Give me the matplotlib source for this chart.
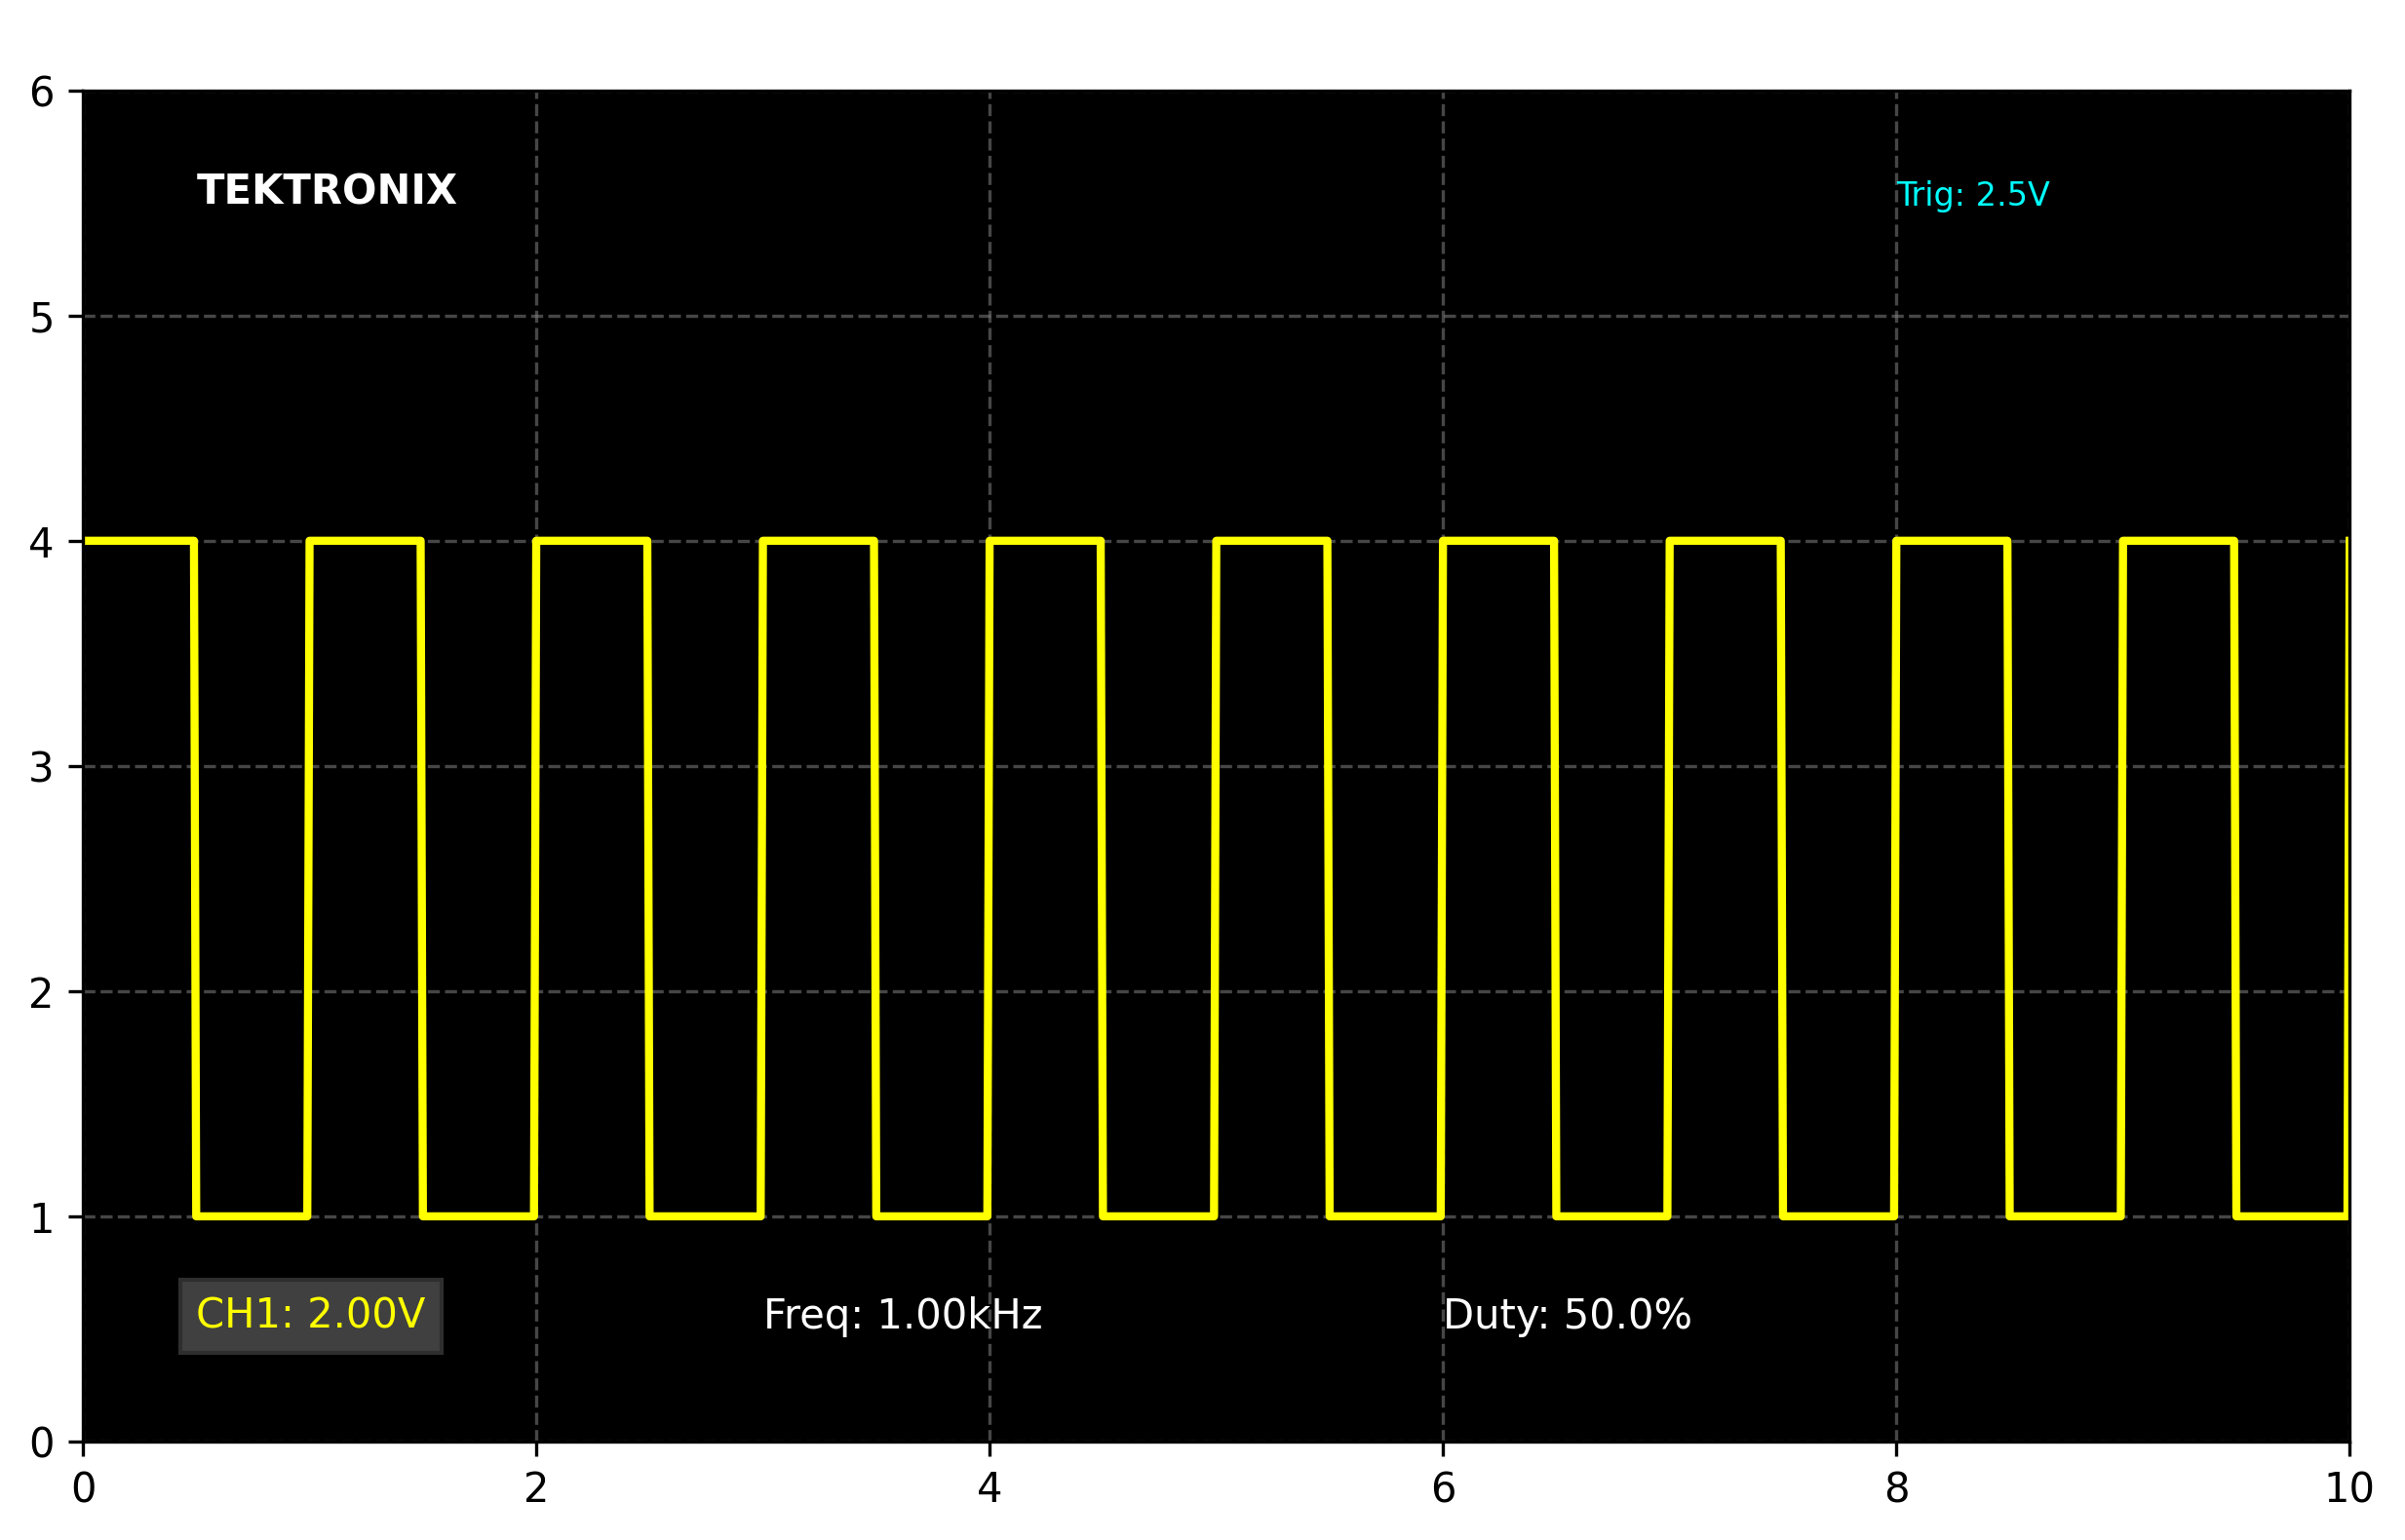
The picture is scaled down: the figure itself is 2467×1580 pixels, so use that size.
"""
Oscilloscope-style square wave capture (Tektronix look).
"""
import matplotlib
matplotlib.use("Agg")
import matplotlib.pyplot as plt

# --------------------------------------------------------------------------- #
# Data
# --------------------------------------------------------------------------- #

start_time = 0.0
start_level = 4.0
# each edge: time where the level settles, and the level after the edge
edge_times = [0.5, 1.0, 1.5, 2.0, 2.5, 3.0, 3.5, 4.0, 4.5, 5.0,
              5.5, 6.0, 6.5, 7.0, 7.5, 8.0, 8.5, 9.0, 9.5, 10.0]
edge_levels = [1.0, 4.0, 1.0, 4.0, 1.0, 4.0, 1.0, 4.0, 1.0, 4.0,
               1.0, 4.0, 1.0, 4.0, 1.0, 4.0, 1.0, 4.0, 1.0, 4.0]
edge_ramp = 0.01  # one sample step, edges are not perfectly vertical

x_ticks = [0, 2, 4, 6, 8, 10]
y_ticks = [0, 1, 2, 3, 4, 5, 6]

# build the polyline from the edge list
xs = [start_time]
ys = [start_level]
for t, lv in zip(edge_times, edge_levels):
    xs += [t - edge_ramp, t]
    ys += [ys[-1], lv]

# --------------------------------------------------------------------------- #
# Figure
# --------------------------------------------------------------------------- #

W, H, DPI = 2467, 1580, 300
fig = plt.figure(figsize=((W + 0.3) / DPI, (H + 0.3) / DPI), dpi=DPI)
fig.patch.set_facecolor("white")

left, right = 85 / W, 2410 / W
bottom, top = 1 - 1479 / H, 1 - 93 / H
ax = fig.add_axes([left, bottom, right - left, top - bottom])
ax.set_facecolor("black")

ax.plot(xs, ys, color="yellow", linewidth=2)

ax.set_xlim(0, 10)
ax.set_ylim(0, 6)
ax.set_xticks(x_ticks)
ax.set_yticks(y_ticks)
ax.grid(True, color="gray", linestyle="--", linewidth=0.8, alpha=0.55)

# labels on the screen
ax.text(0.05, 0.916, "TEKTRONIX", transform=ax.transAxes,
        color="white", fontsize=10, fontweight="bold")
ax.text(0.80, 0.915, "Trig: 2.5V", transform=ax.transAxes,
        color="cyan", fontsize=8)
ax.text(0.05, 0.084, "CH1: 2.00V", transform=ax.transAxes,
        color="yellow", fontsize=10,
        bbox=dict(boxstyle="square,pad=0.4", facecolor="#404040",
                  edgecolor="#2e2e2e", linewidth=1))
ax.text(0.30, 0.084, "Freq: 1.00kHz", transform=ax.transAxes,
        color="white", fontsize=10)
ax.text(0.60, 0.084, "Duty: 50.0%", transform=ax.transAxes,
        color="white", fontsize=10)

fig.savefig("out.png", dpi=DPI, facecolor="white")
plt.close(fig)
